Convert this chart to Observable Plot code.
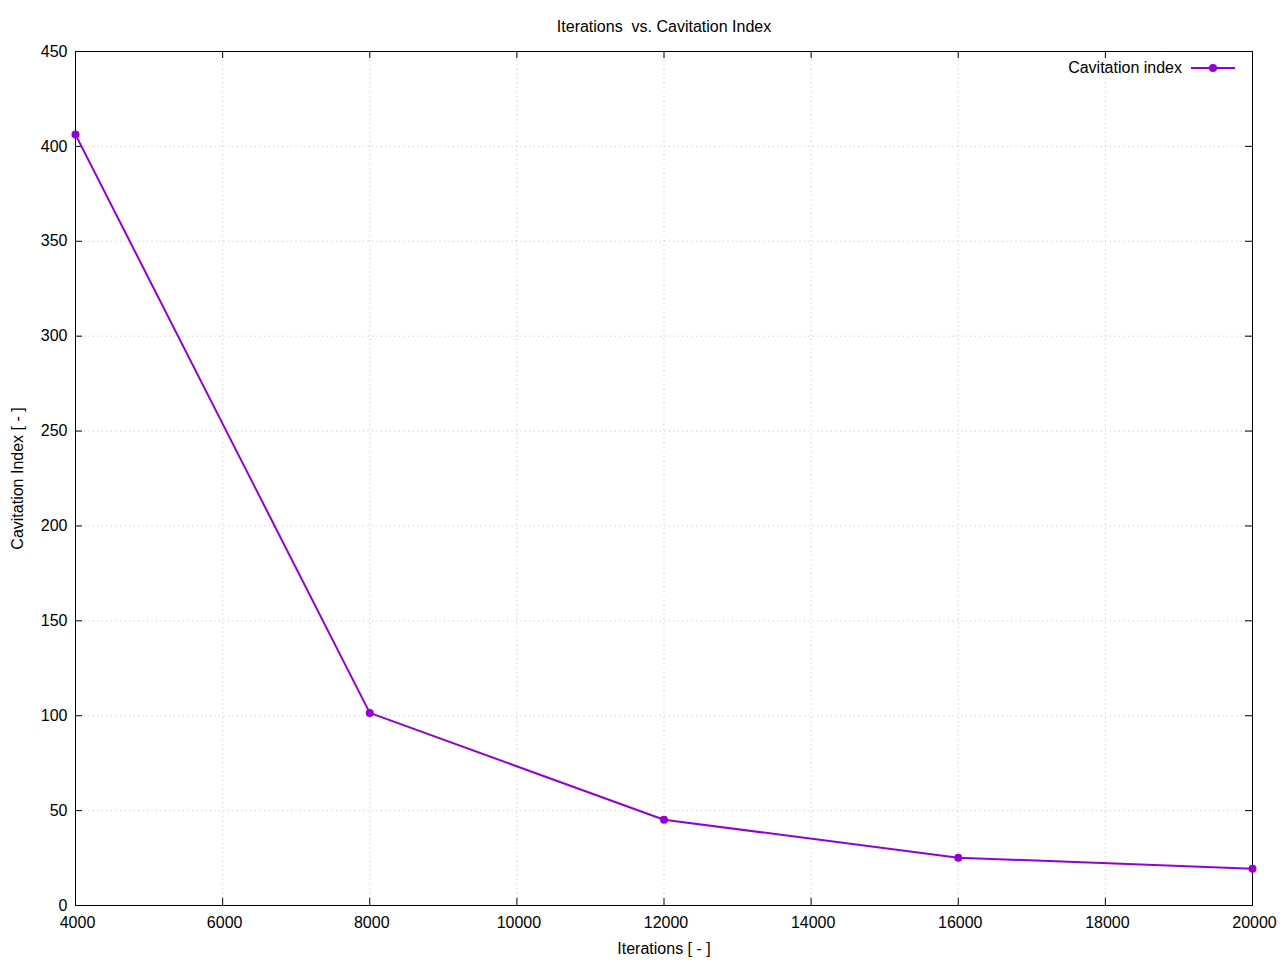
<!DOCTYPE html>
<html>
<head>
<meta charset="utf-8">
<script src="https://cdn.jsdelivr.net/npm/d3@7"></script>
<script src="https://cdn.jsdelivr.net/npm/@observablehq/plot@0.6"></script>
<style>
  html, body { margin: 0; padding: 0; background: #fff; }
  #wrap { position: relative; width: 1280px; height: 960px; font-family: "Liberation Sans", Arial, sans-serif; }
  #legend { position: absolute; top: 59px; right: 45px; height: 18px; display: flex; align-items: center; font-size: 16px; color: #000; }
  #legend svg { margin-left: 9px; }
</style>
</head>
<body>
<div id="wrap"></div>
<script>
const iterations = [4000, 8000, 12000, 16000, 20000];
const cavitationIndex = [406.2, 101.5, 45.2, 25.2, 19.3];
const xTicks = [4000, 6000, 8000, 10000, 12000, 14000, 16000, 18000, 20000];
const yTicks = [0, 50, 100, 150, 200, 250, 300, 350, 400, 450];
const titleText = "Iterations  vs. Cavitation Index";
const xLabel = "Iterations [ - ]";
const yLabel = "Cavitation Index [ - ]";
const seriesName = "Cavitation index";
const color = "#9400D3";

const data = iterations.map((x, i) => ({x, y: cavitationIndex[i]}));

const W = 1280, H = 960, mL = 75, mR = 28, mT = 51, mB = 55;
const fw = W - mL - mR, fh = H - mT - mB;
const tl = 7;

const chart = Plot.plot({
  width: W, height: H,
  marginLeft: mL, marginRight: mR, marginTop: mT, marginBottom: mB,
  style: {fontFamily: "Liberation Sans, Arial, sans-serif", fontSize: "16px", color: "#000", background: "#fff"},
  x: {domain: [4000, 20000]},
  y: {domain: [0, 450]},
  marks: [
    Plot.gridX(xTicks, {stroke: "#c0c0c0", strokeOpacity: 1, strokeDasharray: "1,3.5", strokeWidth: 1}),
    Plot.gridY(yTicks, {stroke: "#c0c0c0", strokeOpacity: 1, strokeDasharray: "1,3.5", strokeWidth: 1}),
    Plot.tickX(xTicks, {x: d => d, insetTop: fh - tl, stroke: "#000"}),
    Plot.tickX(xTicks, {x: d => d, insetBottom: fh - tl, stroke: "#000"}),
    Plot.tickY(yTicks, {y: d => d, insetRight: fw - tl, stroke: "#000"}),
    Plot.tickY(yTicks, {y: d => d, insetLeft: fw - tl, stroke: "#000"}),
    Plot.frame({stroke: "#000", strokeWidth: 1}),
    Plot.axisX(xTicks, {tickSize: 0, tickPadding: 11, fontSize: 16, label: null, dx: 2, tickFormat: d => String(d)}),
    Plot.axisY(yTicks, {tickSize: 0, tickPadding: 8, fontSize: 16, label: null, tickFormat: d => String(d)}),
    Plot.line(data, {x: "x", y: "y", stroke: color, strokeWidth: 2}),
    Plot.dot(data, {x: "x", y: "y", fill: color, r: 4}),
    Plot.text([titleText], {text: d => d, frameAnchor: "top", lineAnchor: "middle", dy: -25, fontSize: 16}),
    Plot.text([xLabel], {text: d => d, frameAnchor: "bottom", lineAnchor: "middle", dy: 43, fontSize: 16}),
    Plot.text([yLabel], {text: d => d, frameAnchor: "left", lineAnchor: "middle", textAnchor: "middle", rotate: -90, dx: -58, fontSize: 16})
  ]
});

const wrap = document.getElementById("wrap");
wrap.appendChild(chart);
const legend = document.createElement("div");
legend.id = "legend";
legend.innerHTML = `<span>${seriesName}</span><svg width="44" height="16"><line x1="0" y1="8" x2="44" y2="8" stroke="${color}" stroke-width="2"/><circle cx="22" cy="8" r="4" fill="${color}"/></svg>`;
wrap.appendChild(legend);
</script>
</body>
</html>
